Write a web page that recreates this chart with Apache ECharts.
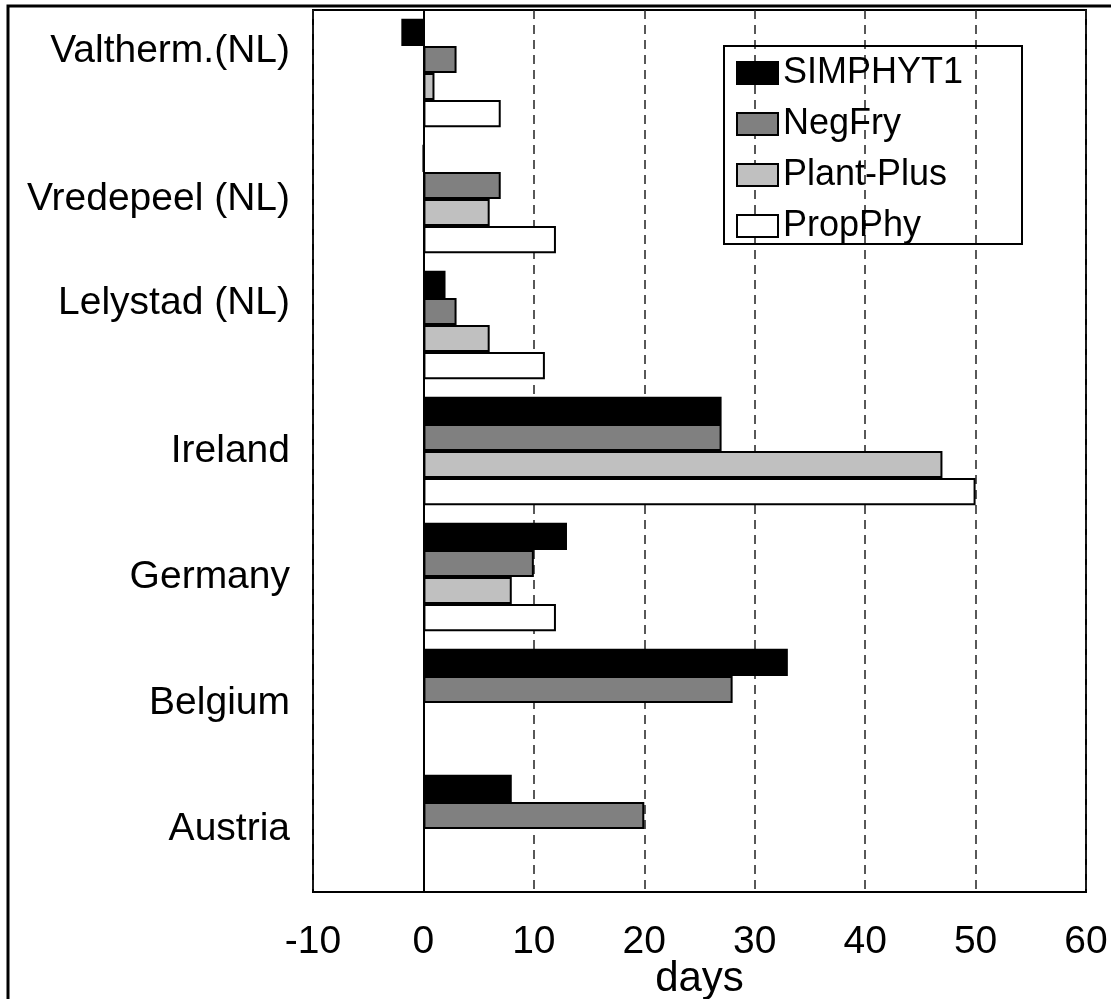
<!DOCTYPE html>
<html>
<head>
<meta charset="utf-8">
<script src="https://cdn.jsdelivr.net/npm/echarts@6/dist/echarts.min.js"></script>
<style>
html,body{margin:0;padding:0;background:#fff;}
#chart{width:1111px;height:999px;}
</style>
</head>
<body>
<div id="chart"></div>
<script>
// Categories listed top to bottom
var categories = ['Valtherm.(NL)', 'Vredepeel (NL)', 'Lelystad (NL)', 'Ireland', 'Germany', 'Belgium', 'Austria'];
var seriesNames = ['SIMPHYT1', 'NegFry', 'Plant-Plus', 'PropPhy'];
var simphyt1 = [-2, 0, 2, 27, 13, 33, 8];
var negFry = [3, 7, 3, 27, 10, 28, 20];
var plantPlus = [1, 6, 6, 47, 8, '-', '-'];
var propPhy = [7, 12, 11, 50, 12, '-', '-'];
var xTicks = { min: -10, max: 60, interval: 10 };
var xName = 'days';

var colors = ['#000000', '#808080', '#c0c0c0', '#ffffff'];
var values = [simphyt1, negFry, plantPlus, propPhy];
var font = '"Liberation Sans", Arial, sans-serif';

var shifted = { 'Valtherm.(NL)': true, 'Lelystad (NL)': true };

var chart = echarts.init(document.getElementById('chart'));
chart.setOption({
  backgroundColor: '#fff',
  animation: false,
  grid: {
    left: 313, right: 25, top: 10, bottom: 107,
    outerBoundsMode: 'none', containLabel: false,
    show: true, borderColor: '#000', borderWidth: 2, backgroundColor: 'transparent'
  },
  legend: {
    left: 736, top: 55,
    orient: 'vertical',
    itemWidth: 41, itemHeight: 22, itemGap: 15,
    icon: 'rect',
    padding: 0,
    textStyle: { fontFamily: font, fontSize: 36, color: '#000', lineHeight: 36 },
    data: seriesNames
  },
  xAxis: {
    type: 'value',
    min: xTicks.min, max: xTicks.max, interval: xTicks.interval,
    name: xName, nameLocation: 'middle', nameGap: 66, nameMoveOverlap: false,
    nameTextStyle: { fontFamily: font, fontSize: 42, color: '#000' },
    axisLine: { show: true, lineStyle: { color: '#000', width: 2 } },
    axisTick: { show: false },
    axisLabel: { fontFamily: font, fontSize: 39, color: '#000', margin: 31 },
    splitLine: { show: true, lineStyle: { color: '#222', width: 1.5, type: [9, 6] } }
  },
  yAxis: {
    type: 'category',
    inverse: true,
    data: categories,
    axisLine: { show: true, onZero: true, lineStyle: { color: '#000', width: 2 } },
    axisTick: { show: false },
    axisLabel: {
      fontFamily: font, fontSize: 39, color: '#000', margin: 23,
      formatter: function (v) { return shifted[v] ? '{s|' + v + '}' : v; },
      rich: { s: { fontFamily: font, fontSize: 39, color: '#000', padding: [0, 0, 44, 0] } }
    },
    splitLine: { show: false }
  },
  series: seriesNames.map(function (n, i) {
    return {
      name: n,
      type: 'bar',
      data: values[i],
      barGap: '0%',
      barCategoryGap: '14%',
      itemStyle: { color: colors[i], borderColor: '#000', borderWidth: 2 }
    };
  }),
  graphic: [
    {
      type: 'rect', silent: true, z: 100,
      shape: { x: 8, y: 6, width: 1200, height: 1100 },
      style: { fill: 'none', stroke: '#000', lineWidth: 3 }
    },
    {
      type: 'rect', silent: true, z: 100,
      shape: { x: 724, y: 46, width: 298, height: 198 },
      style: { fill: 'none', stroke: '#000', lineWidth: 2 }
    }
  ]
});
</script>
</body>
</html>
